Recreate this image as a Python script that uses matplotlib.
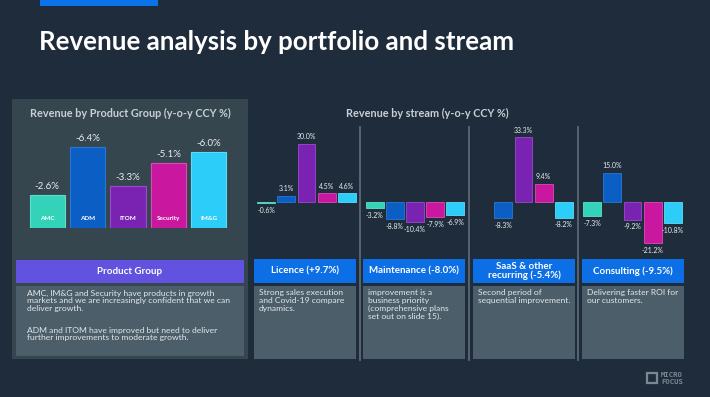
import matplotlib.pyplot as plt
from matplotlib.patches import Rectangle

plt.rcParams['font.family'] = ['Lato', 'DejaVu Sans']

W, H = 710, 397

# left panel: revenue by product group (y-o-y CCY %)
groups = ['AMC', 'ADM', 'ITOM', 'Security', 'IM&G']
group_vals = [-2.6, -6.4, -3.3, -5.1, -6.0]
colors = ['#33d3b9', '#0b5ec3', '#7a23b3', '#c9179f', '#2ccdf8']
edges = ['#5fe0cc', '#2a78d6', '#9a4bc9', '#dc49b8', '#5cdcfb']

# right panels: revenue by stream, one value per product group (None = no bar)
streams = ['Licence (+9.7%)', 'Maintenance (-8.0%)', 'SaaS & other\nrecurring (-5.4%)', 'Consulting (-9.5%)']
stream_vals = [
    [-0.6, 3.1, 30.0, 4.5, 4.6],
    [-3.2, -8.8, -10.4, -7.9, -6.9],
    [None, -8.3, 33.3, 9.4, -8.2],
    [-7.3, 15.0, -9.2, -21.2, -10.8],
]
stream_notes = [
    'Strong sales execution\nand Covid-19 compare\ndynamics.',
    'improvement is a\nbusiness priority\n(comprehensive plans\nset out on slide 15).',
    'Second period of\nsequential improvement.',
    'Delivering faster ROI for\nour customers.',
]
group_note = ('AMC, IM&G and Security have products in growth\n'
              'markets and we are increasingly confident that we can\n'
              'deliver growth.')
group_note2 = ('ADM and ITOM have improved but need to deliver\n'
               'further improvements to moderate growth.')

bg = '#1f2c3b'
fig = plt.figure(figsize=(W / 100, H / 100), dpi=100, facecolor=bg)


def add_ax(x, y, w, h):
    return fig.add_axes([x / W, 1 - (y + h) / H, w / W, h / H])


# background layer in pixel coordinates
base = add_ax(0, 0, W, H)
base.set_xlim(0, W)
base.set_ylim(H, 0)
base.axis('off')
base.set_facecolor(bg)

def box(x, y, w, h, c):
    base.add_patch(Rectangle((x, y), w, h, facecolor=c, edgecolor='none'))

box(40, 0, 118, 6, '#0a73eb')
base.text(39, 42, 'Revenue analysis by portfolio and stream', color='white',
          fontsize=18.6, fontweight='bold', va='center', ha='left')

# left panel
box(12, 99, 236, 260, '#36464f')
base.text(130, 113, 'Revenue by Product Group (y-o-y CCY %)', color='#c8d0d5',
          fontsize=7.8, fontweight='bold', ha='center', va='center')
box(16, 260, 228, 23, '#6153e0')
base.text(130, 271.5, 'Product Group', color='white', fontsize=7.0,
          fontweight='bold', ha='center', va='center')
box(16, 286, 228, 70, '#4b5e69')
base.text(27, 289.5, group_note, color='#e3e8eb', fontsize=6.1, ha='left',
          va='top', linespacing=1.1)
base.text(27, 326.5, group_note2, color='#e3e8eb', fontsize=6.1, ha='left',
          va='top', linespacing=1.1)

# right panels
base.text(427, 113, 'Revenue by stream (y-o-y CCY %)', color='#c8d0d5',
          fontsize=7.8, fontweight='bold', ha='center', va='center')
for xs in [360, 469, 578]:
    base.plot([xs, xs], [127, 360], color='#5b6a75', lw=1.3)

header_x = [254, 363, 473, 582]
for hx, name, note in zip(header_x, streams, stream_notes):
    box(hx, 259, 102, 24, '#0d6fe6')
    base.text(hx + 51, 271, name, color='white', fontsize=7.0,
              fontweight='bold', ha='center', va='center', linespacing=1.0)
    box(hx, 286, 102, 73, '#4b5e69')
    base.text(hx + 5, 289.5, note, color='#e3e8eb', fontsize=6.1, ha='left',
              va='top', linespacing=1.1)

# logo
base.add_patch(Rectangle((647, 373), 10, 10, facecolor='none',
                         edgecolor='#7b8893', lw=1.6))
base.text(661, 375, 'MICRO', color='#7b8893', fontsize=5.2, fontweight='bold',
          ha='left', va='center', family='DejaVu Sans Mono')
base.text(661, 382, 'FOCUS', color='#7b8893', fontsize=5.2, fontweight='bold',
          ha='left', va='center', family='DejaVu Sans Mono')

# product group bars (magnitudes, labelled with signed values)
ax = add_ax(27, 130, 202, 98)
ax.patch.set_alpha(0)
ax.axis('off')
xs = range(len(groups))
ax.bar(xs, [abs(v) for v in group_vals], width=0.87, color=colors,
       edgecolor=edges, linewidth=0.8)
ax.set_xlim(-0.5, 4.5)
ax.set_ylim(0, 98 / 12.65)
for i, (g, v) in enumerate(zip(groups, group_vals)):
    ax.annotate(f'{v:.1f}%', (i, abs(v)), xytext=(0, 3), textcoords='offset points',
                ha='center', va='bottom', color='#e8edf0', fontsize=7)
    ax.annotate(g, (i, 0), xytext=(0, 7), textcoords='offset points',
                ha='center', va='center', color='white', fontsize=4.6,
                fontweight='bold')

# stream bars
scale = 1.95
top, bot = 130, 252
zero = 202
for left, vals in zip([256, 364.5, 473, 582], stream_vals):
    sax = add_ax(left, top, 101, bot - top)
    sax.patch.set_alpha(0)
    sax.axis('off')
    sax.set_xlim(-0.5, 4.5)
    sax.set_ylim(-(bot - zero) / scale, (zero - top) / scale)
    for i, v in enumerate(vals):
        if v is None:
            continue
        sax.bar(i, v, width=0.89, color=colors[i], edgecolor=edges[i], linewidth=0.6)
        if v >= 0:
            sax.annotate(f'{v:.1f}%', (i, v), xytext=(0, 2.5), textcoords='offset points',
                         ha='center', va='bottom', color='#e8edf0', fontsize=5)
        else:
            sax.annotate(f'{v:.1f}%', (i, v), xytext=(0, -2.5), textcoords='offset points',
                         ha='center', va='top', color='#e8edf0', fontsize=5)

fig.savefig('out.png', dpi=100, facecolor=bg)
